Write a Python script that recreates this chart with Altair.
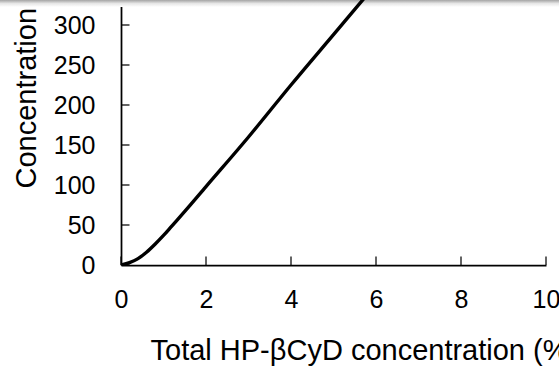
import altair as alt
import pandas as pd

# curve
conc_x = [0, 0.2, 0.4, 0.6, 0.8, 1.0, 1.2, 1.5, 2.0, 3.0, 4.0, 5.0, 6.0]
conc_y = [0, 3, 8, 16, 26, 37, 49, 67, 98, 160, 225, 288, 351]

x_ticks = [0, 2, 4, 6, 8, 10]
y_ticks = [0, 50, 100, 150, 200, 250, 300]

FONT = "Liberation Sans"
LABEL_SIZE = 25
TITLE_SIZE = 29

line_df = pd.DataFrame({"x": conc_x, "y": conc_y})
xt_df = pd.DataFrame({"x": x_ticks})
yt_df = pd.DataFrame({"y": y_ticks})

xscale = alt.Scale(domain=[0, 10], nice=False, zero=False)
yscale = alt.Scale(domain=[0, 331.25], nice=False, zero=False)

xaxis = alt.Axis(
    title="Total HP-βCyD concentration (%)",
    values=x_ticks, ticks=False, tickSize=0, grid=False,
    labelFont=FONT, labelFontSize=LABEL_SIZE, labelColor="black",
    labelPadding=22, labelFlush=False, labelOverlap=False,
    domainColor="black", domainWidth=1.75,
    titleFont=FONT, titleFontSize=TITLE_SIZE, titleFontWeight="normal",
    titleColor="black", titleAlign="left", titleAnchor="start",
    titleX=29, titleY=94, titleBaseline="alphabetic",
)
yaxis = alt.Axis(
    title="Concentration",
    values=y_ticks, ticks=False, tickSize=0, grid=False,
    labelFont=FONT, labelFontSize=LABEL_SIZE, labelColor="black",
    labelPadding=26, labelFlush=False, labelOverlap=False,
    domainColor="black", domainWidth=1.75,
    titleFont=FONT, titleFontSize=TITLE_SIZE, titleFontWeight="normal",
    titleColor="black", titleAlign="left", titleAnchor="start", titleAngle=270,
    titleX=-86, titleY=188, titleBaseline="alphabetic",
)

shade = alt.Chart(pd.DataFrame({"k": [0]})).mark_rect(
    fill=alt.Gradient(
        gradient="linear", x1=0, x2=0, y1=0, y2=1,
        stops=[alt.GradientStop(color="#a4a4a4", offset=0),
               alt.GradientStop(color="#e6e6e6", offset=0.5),
               alt.GradientStop(color="#ffffff", offset=1)],
    ),
    stroke=None,
).encode(
    x=alt.value(-121), x2=alt.value(438), y=alt.value(0), y2=alt.value(7)
)

line = alt.Chart(line_df).mark_line(
    color="black", strokeWidth=3.4, interpolate="monotone", clip=True
).encode(
    x=alt.X("x:Q", scale=xscale, axis=xaxis),
    y=alt.Y("y:Q", scale=yscale, axis=yaxis),
)

xt = alt.Chart(xt_df).mark_tick(
    orient="vertical", color="black", size=8.5, thickness=1.75, yOffset=-4.25
).encode(
    x=alt.X("x:Q", scale=xscale),
    y=alt.YDatum(0),
)

yt = alt.Chart(yt_df).mark_tick(
    orient="horizontal", color="black", size=8.5, thickness=1.75, xOffset=4.25
).encode(
    y=alt.Y("y:Q", scale=yscale),
    x=alt.XDatum(0),
)

chart = alt.layer(shade, line, xt, yt).properties(
    width=425, height=265,
    autosize=alt.AutoSizeParams(type="none"),
    padding={"left": 121, "top": 0, "right": 13, "bottom": 103},
    background="white",
).configure_view(stroke=None)

chart.save("out.html", embed_options={"renderer": "svg", "actions": False})
